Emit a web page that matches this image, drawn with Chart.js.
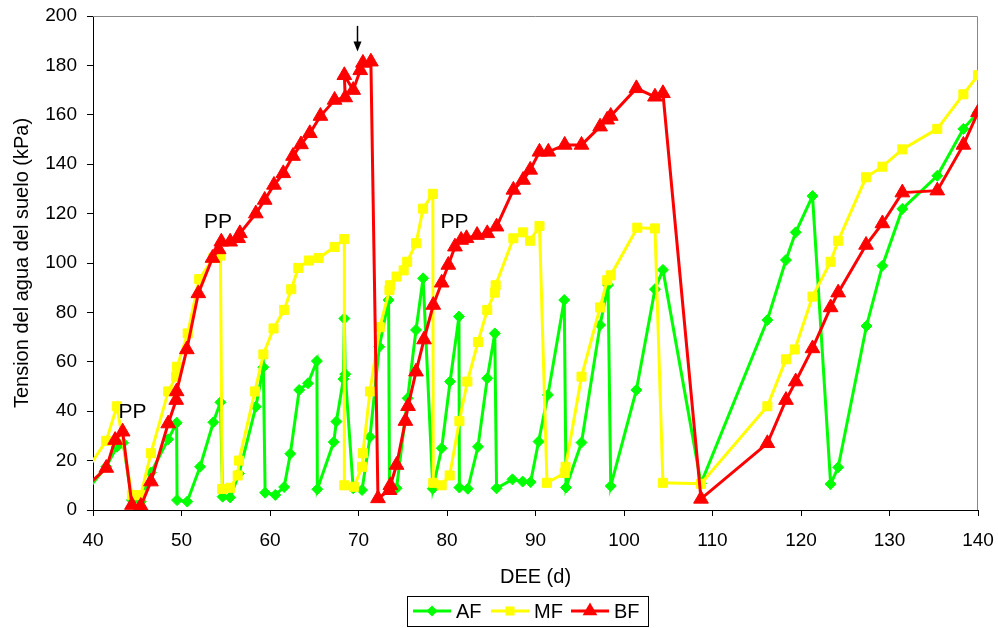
<!DOCTYPE html>
<html>
<head>
<meta charset="utf-8">
<script src="https://cdn.jsdelivr.net/npm/chart.js@4/dist/chart.umd.min.js"></script>
<style>
  body { margin: 0; background: #fff; }
  canvas { display: block; }
</style>
</head>
<body>
<canvas id="chart" width="998" height="628"></canvas>
<script>
// Data: [DEE (d), tension (kPa)]
const afPoints = [
  [37.5, 0], [41.5, 17.5], [42.7, 25.6], [43.4, 27.2], [44.4, 4], [45.4, 3.4], [46.55, 15.1],
  [48.5, 28.6], [49.45, 35.3], [49.5, 4], [50.65, 3.4], [52.1, 17.5], [53.6, 35.5], [54.4, 43.6],
  [54.65, 5.4], [55.5, 5.1], [56.5, 14.8], [58.4, 41.8], [59.25, 57.8], [59.45, 7], [60.6, 6.1],
  [61.6, 9.3], [62.3, 22.8], [63.3, 48.6], [64.3, 51.3], [65.3, 60.3], [65.35, 8.4], [67.2, 27.5],
  [67.5, 35.8], [68.3, 53], [68.4, 77.5], [68.5, 55], [69.4, 8.8], [70.4, 8.1], [71.3, 29.6],
  [72.35, 66.1], [73.4, 85], [73.5, 8.8], [74.3, 8.8], [75.55, 45.2], [76.5, 72.9], [77.3, 93.8],
  [78.4, 8.6], [79.4, 25], [80.35, 52], [81.35, 78.3], [81.4, 9.1], [82.35, 8.6], [83.5, 25.6],
  [84.55, 53.3], [85.4, 71.5], [85.6, 8.8], [87.4, 12.4], [88.55, 11.5], [89.45, 11.3], [90.35, 27.7],
  [91.4, 46.6], [93.25, 85], [93.45, 9.1], [95.2, 27.3], [97.3, 74.9], [98.2, 91.1], [98.5, 9.7],
  [101.4, 48.6], [103.5, 89.4], [104.4, 97.2], [108.7, 10.8], [116.2, 76.9], [118.3, 101.2],
  [119.4, 112.4], [121.3, 127.1], [123.35, 10.5], [124.2, 17.3], [127.4, 74.5], [129.2, 98.9],
  [131.45, 121.9], [135.4, 135.3], [138.35, 154.3], [140, 161]
];

const mfPoints = [
  [37, 4], [41.5, 28], [42.7, 42], [44.4, 6], [45.4, 6], [46.55, 23], [48.5, 48], [49.4, 54],
  [49.5, 58], [50.7, 71.5], [52.0, 93.5], [53.6, 102], [54.4, 103], [54.6, 8.5], [55.5, 9],
  [56.35, 14], [56.5, 20], [58.3, 48], [59.25, 63], [60.4, 73.5], [61.6, 81], [62.4, 89.4],
  [63.2, 98], [64.4, 101], [65.5, 102], [67.3, 106.5], [68.4, 109.7], [68.4, 10], [69.5, 9.4],
  [70.4, 17.5], [70.5, 23], [71.3, 48], [72.4, 74], [73.5, 89], [73.55, 91], [74.3, 94.5],
  [75.1, 97], [75.5, 100.5], [76.5, 108], [77.3, 122], [78.4, 128], [78.45, 11], [79.4, 10],
  [80.3, 14], [81.4, 36], [82.3, 52], [83.5, 68], [84.55, 81], [85.4, 88], [85.5, 91],
  [87.5, 110], [88.6, 112.4], [89.4, 109], [90.45, 115], [91.3, 11], [93.3, 15], [93.4, 17.5],
  [95.2, 54], [97.3, 82], [98.1, 93], [98.5, 95], [101.5, 114.3], [103.5, 114], [104.4, 11],
  [108.7, 10.6], [116.2, 42], [118.3, 61], [119.3, 65], [121.3, 86.4], [123.35, 100.5],
  [124.2, 109], [127.35, 134.7], [129.2, 139], [131.45, 146], [135.4, 154.3], [138.35, 168.3],
  [140, 176]
];

const bfPoints = [
  [37, 2], [41.5, 17], [42.5, 28.3], [43.35, 31.7], [44.4, 2], [45.4, 1.6], [46.55, 11.5],
  [48.5, 35], [49.4, 44.5], [49.45, 48], [50.6, 65], [51.9, 87.7], [53.5, 102], [54.2, 105.5],
  [54.5, 108.6], [55.5, 108.6], [56.4, 110], [56.6, 112], [58.4, 120], [59.4, 125.5],
  [60.45, 131.6], [61.5, 136.3], [62.6, 143.3], [63.5, 148], [64.5, 152.5], [65.7, 159.5],
  [67.3, 166], [68.5, 167], [68.4, 176], [69.4, 170], [70.2, 178], [70.5, 181], [71.4, 181.5],
  [72.2, 4.7], [73.5, 8], [73.6, 10], [74.3, 18.2], [75.3, 36], [75.6, 42], [76.5, 56],
  [77.4, 69], [78.45, 83], [79.4, 92], [80.15, 99.2], [80.9, 106.6], [81.6, 109.3], [82.2, 110],
  [83.4, 111.3], [84.55, 112], [85.6, 114.7], [87.5, 129.6], [88.6, 133.6], [89.4, 137.7],
  [90.45, 145], [91.45, 145], [93.3, 147.8], [95.2, 147.8], [97.3, 155.2], [98.1, 158],
  [98.5, 159.5], [101.4, 170.7], [103.5, 167.3], [104.4, 168.7], [108.7, 4.5], [116.2, 27],
  [118.3, 44.5], [119.4, 52], [121.3, 65.4], [123.35, 82], [124.2, 88], [127.35, 107.3],
  [129.2, 116], [131.45, 128.5], [135.4, 129.3], [138.35, 147.8], [140, 161]
];

const seriesNames = ['AF', 'MF', 'BF'];
const ppLabels = [[44.46, 39.6], [54.12, 116.6], [80.85, 116.6]];
const arrowAt = [69.8, 196, 186]; // x, from y, to y

const FONT = '"Liberation Sans", Arial, sans-serif';
const colors = { AF: '#00ff00', MF: '#ffff00', BF: '#ff0000' };
const marks = {
  AF: { style: 'rectRot', radius: 5.5 },
  MF: { style: 'rect', radius: 6.4 },
  BF: { style: 'triangle', radius: 8.5 }
};

function toXY(points) {
  return points.map(p => ({ x: p[0], y: p[1] }));
}

function makeDataset(name, points, order) {
  return {
    label: name,
    data: toXY(points),
    showLine: true,
    borderColor: colors[name],
    backgroundColor: colors[name],
    borderWidth: 3,
    tension: 0,
    pointStyle: marks[name].style,
    pointRadius: marks[name].radius,
    pointBorderWidth: 1,
    pointBackgroundColor: colors[name],
    pointBorderColor: colors[name],
    order: order
  };
}

// Draw a marker the same way for the legend
function drawMark(ctx, name, x, y) {
  const r = marks[name].radius;
  ctx.save();
  ctx.fillStyle = colors[name];
  ctx.beginPath();
  if (name === 'AF') {
    ctx.moveTo(x - r, y); ctx.lineTo(x, y - r); ctx.lineTo(x + r, y); ctx.lineTo(x, y + r);
  } else if (name === 'MF') {
    const s = r * Math.SQRT1_2;
    ctx.rect(x - s, y - s, 2 * s, 2 * s);
  } else {
    ctx.moveTo(x, y - r);
    ctx.lineTo(x + r * Math.sin(Math.PI * 2 / 3), y + r / 2);
    ctx.lineTo(x - r * Math.sin(Math.PI * 2 / 3), y + r / 2);
  }
  ctx.closePath();
  ctx.fill();
  ctx.restore();
}

const extras = {
  id: 'extras',
  beforeDatasetsDraw(chart) {
    const { ctx, chartArea: a } = chart;
    ctx.save();
    ctx.strokeStyle = '#888';
    ctx.lineWidth = 1;
    ctx.beginPath();
    ctx.moveTo(a.left, a.top + 0.5);
    ctx.lineTo(a.right - 0.5, a.top + 0.5);
    ctx.lineTo(a.right - 0.5, a.bottom);
    ctx.stroke();
    ctx.restore();
  },
  afterDatasetsDraw(chart) {
    const { ctx } = chart;
    const xs = chart.scales.x, ys = chart.scales.y;
    ctx.save();

    // PP labels
    ctx.fillStyle = '#000';
    ctx.font = '21px ' + FONT;
    ctx.textAlign = 'center';
    ctx.textBaseline = 'middle';
    ppLabels.forEach(p => ctx.fillText('PP', xs.getPixelForValue(p[0]), ys.getPixelForValue(p[1])));

    // arrow pointing at the peak
    const ax = Math.round(xs.getPixelForValue(arrowAt[0])) + 0.5;
    const y1 = ys.getPixelForValue(arrowAt[1]);
    const y2 = ys.getPixelForValue(arrowAt[2]);
    ctx.strokeStyle = '#000';
    ctx.lineWidth = 1.5;
    ctx.beginPath();
    ctx.moveTo(ax, y1);
    ctx.lineTo(ax, y2 - 6);
    ctx.stroke();
    ctx.beginPath();
    ctx.moveTo(ax - 4, y2 - 9);
    ctx.lineTo(ax + 4, y2 - 9);
    ctx.lineTo(ax, y2 + 1);
    ctx.closePath();
    ctx.fill();

    // legend box
    ctx.strokeStyle = '#000';
    ctx.lineWidth = 1;
    ctx.strokeRect(407.5, 596.5, 241, 30);
    ctx.font = '20px ' + FONT;
    ctx.textAlign = 'left';
    const starts = [413, 491, 571];
    seriesNames.forEach((name, i) => {
      const x0 = starts[i], ly = 611;
      ctx.strokeStyle = colors[name];
      ctx.lineWidth = 3;
      ctx.beginPath();
      ctx.moveTo(x0, ly);
      ctx.lineTo(x0 + 38, ly);
      ctx.stroke();
      drawMark(ctx, name, x0 + 19, ly);
      ctx.fillStyle = '#000';
      ctx.fillText(name, x0 + 43, ly + 1);
    });
    ctx.restore();
  }
};

new Chart(document.getElementById('chart'), {
  type: 'scatter',
  data: {
    datasets: [
      makeDataset('AF', afPoints, 2),
      makeDataset('MF', mfPoints, 1),
      makeDataset('BF', bfPoints, 0)
    ]
  },
  options: {
    responsive: false,
    animation: false,
    layout: { padding: { top: 16, right: 20, bottom: 35, left: 0 } },
    plugins: {
      legend: { display: false },
      tooltip: { enabled: false }
    },
    scales: {
      x: {
        type: 'linear',
        min: 40,
        max: 140,
        ticks: { stepSize: 10, color: '#000', font: { family: FONT, size: 19 }, padding: 13, maxRotation: 0 },
        grid: { drawOnChartArea: false, color: '#000', tickLength: 6 },
        border: { color: '#000', width: 1 },
        title: {
          display: true,
          text: 'DEE (d)',
          color: '#000',
          font: { family: FONT, size: 20 },
          padding: { top: 4, bottom: 4 }
        },
        afterFit: s => {
          s.height = 83;
          s.paddingLeft = 0;
          s.paddingRight = 0;
        }
      },
      y: {
        min: 0,
        max: 200,
        ticks: { stepSize: 20, color: '#000', font: { family: FONT, size: 19 }, padding: 10 },
        grid: { drawOnChartArea: false, color: '#000', tickLength: 6 },
        border: { color: '#000', width: 1 },
        title: {
          display: true,
          text: 'Tension del agua del suelo (kPa)',
          color: '#000',
          font: { family: FONT, size: 20 },
          padding: { top: 10.5, bottom: 0 }
        },
        afterFit: s => {
          s.width = 93;
          s.paddingTop = 0;
          s.paddingBottom = 0;
        }
      }
    }
  },
  plugins: [extras]
});
</script>
</body>
</html>
